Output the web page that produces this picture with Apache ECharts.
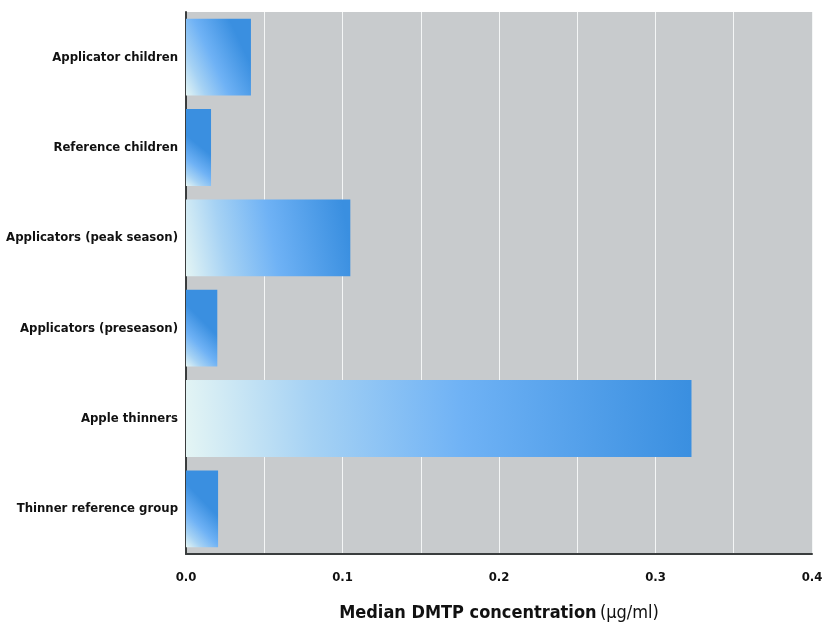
<!DOCTYPE html>
<html>
<head>
<meta charset="utf-8">
<script src="https://cdn.jsdelivr.net/npm/echarts@6/dist/echarts.min.js"></script>
<style>
  html, body { margin: 0; padding: 0; background: #ffffff; }
  #chart { width: 822px; height: 623px; }
</style>
</head>
<body>
<div id="chart"></div>
<script>
// Study groups, top to bottom
const groups = [
  'Applicator children',
  'Reference children',
  'Applicators (peak season)',
  'Applicators (preseason)',
  'Apple thinners',
  'Thinner reference group'
];
// Median DMTP concentration (µg/ml)
const medianDMTP = [0.0415, 0.016, 0.105, 0.020, 0.323, 0.0205];
// Axis ticks
const tickValues = ['0.0', '0.1', '0.2', '0.3', '0.4'];

const FONT = "'Liberation Sans Narrow', 'DejaVu Sans Condensed', 'Roboto Condensed', sans-serif";

const barFill = {
  type: 'linear', x: 0, y: 1, x2: 1, y2: 0.6,
  colorStops: [
    { offset: 0, color: '#e4f5f4' },
    { offset: 0.25, color: '#a6d2f4' },
    { offset: 0.55, color: '#6fb2f5' },
    { offset: 1, color: '#3a8fe0' }
  ]
};

const chart = echarts.init(document.getElementById('chart'));
chart.setOption({
  backgroundColor: '#ffffff',
  animation: false,
  grid: {
    left: 186, right: 10, top: 12, bottom: 69,
    outerBoundsMode: 'none',
    containLabel: false,
    show: true, backgroundColor: '#c8cbcd', borderWidth: 0
  },
  xAxis: {
    type: 'value',
    min: 0, max: 0.4, interval: 0.05,
    axisLine: { show: true, onZero: false, lineStyle: { color: '#3a3d3e', width: 2 } },
    axisTick: { show: false },
    splitLine: { show: true, lineStyle: { color: '#f4f6f6', width: 1 } },
    axisLabel: {
      margin: 17,
      fontFamily: FONT, fontWeight: 'bold', fontSize: 13, color: '#111',
      formatter: function (v) {
        const i = Math.round(v * 20);
        return i % 2 === 0 ? tickValues[i / 2] : '';
      }
    },
    name: '{b|Median DMTP concentration} {n|(µg/ml)}',
    nameLocation: 'middle',
    nameGap: 50,
    nameTextStyle: {
      rich: {
        b: { fontFamily: FONT, fontWeight: 'bold', fontSize: 18, color: '#111' },
        n: { fontFamily: FONT, fontWeight: 'normal', fontSize: 18, color: '#111' }
      }
    }
  },
  yAxis: {
    type: 'category',
    data: groups,
    inverse: true,
    axisLine: { show: true, lineStyle: { color: '#3a3d3e', width: 2 } },
    axisTick: { show: false },
    splitLine: { show: false },
    axisLabel: {
      margin: 8,
      fontFamily: FONT, fontWeight: 'bold', fontSize: 13, color: '#111'
    }
  },
  series: [{
    type: 'bar',
    data: medianDMTP,
    barCategoryGap: '15%',
    itemStyle: { color: barFill }
  }]
});
</script>
</body>
</html>
